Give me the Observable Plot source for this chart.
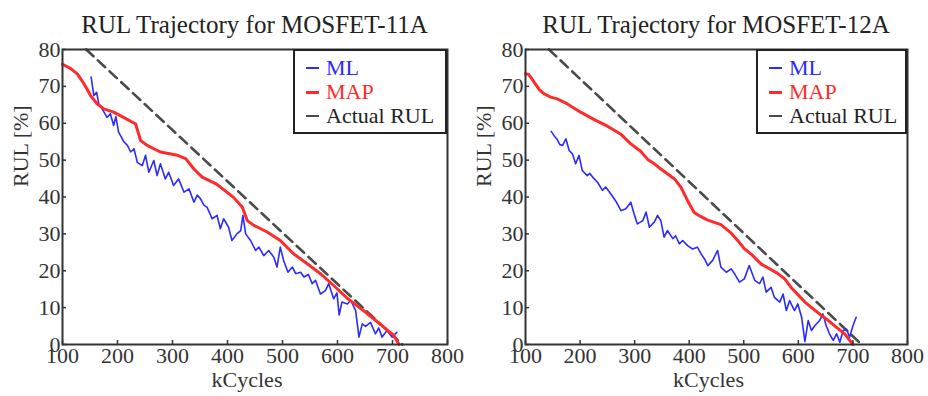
<!DOCTYPE html>
<html>
<head>
<meta charset="utf-8">
<script src="https://cdn.jsdelivr.net/npm/d3@7"></script>
<script src="https://cdn.jsdelivr.net/npm/@observablehq/plot@0.6"></script>
<style>
  html, body { margin: 0; padding: 0; background: #fff; }
  #wrap { position: relative; width: 928px; height: 396px; overflow: hidden; font-family: "Liberation Serif", "Times New Roman", serif; }
  .panel { position: absolute; top: 0; width: 464px; height: 396px; }
  .title { box-sizing: border-box; margin-top: 13px; height: 24px; line-height: 24px; font-size: 25px; color: #222; text-align: center; white-space: nowrap; }
  .panel svg { display: block; }
  .legend { position: absolute; top: 49px; height: 85px; box-sizing: border-box; border: 2px solid #222; background: #fff; padding: 5px 0 0 11px; font-size: 22px; }
  .legend .row { display: flex; align-items: center; height: 24px; white-space: nowrap; }
  .legend .swatch { width: 13px; height: 0; margin-right: 7px; }
</style>
</head>
<body>
<div id="wrap"></div>
<script>
// Axis ticks shared by both panels
const xTicks = [100, 200, 300, 400, 500, 600, 700, 800];
const yTicks = [0, 10, 20, 30, 40, 50, 60, 70, 80];

// MOSFET-11A: [kCycles, RUL %]
const ml11A = [[152,72.5],[157,67.5],[162,68.4],[166,65.3],[172,63.9],[181,61.6],[187,62.6],[193,59.4],[197,61.8],[202,57.6],[212,54.9],[218,54],[224,52.2],[230,53.1],[236,49.4],[245,48.5],[251,51.3],[257,46.7],[266,49.9],[272,45.8],[278,49],[287,44.9],[293,46.7],[302,43.1],[311,44.9],[321,41.3],[330,42.2],[339,38.6],[345,40.5],[351,39.5],[357,37.8],[363,37.2],[372,34.1],[381,35],[387,31.4],[393,34.1],[402,31.8],[408,28.2],[417,30],[424,30.9],[428,35],[433,30],[442,28.2],[451,25.5],[457,26.4],[466,24.1],[475,25.5],[484,23.7],[490,21],[496,26.4],[502,22.8],[510,19.6],[518,21],[524,19.2],[533,19.6],[539,18.3],[547,19],[554,16.5],[560,17.4],[569,13.7],[578,14.6],[584,16.5],[593,12.4],[599,14],[603,8],[608,11.5],[618,11],[624,12],[633,9.2],[639,2],[645,5.6],[651,4.9],[660,6],[669,2.9],[675,4.5],[681,2],[690,3.8],[699,2],[708,3.3]];
const map11A = [[100,76],[115,74.8],[127,73.4],[139,70.7],[151,67.5],[163,65.3],[175,63.9],[193,63],[211,61.6],[233,59.8],[242,55.3],[254,54],[278,52.2],[309,51.3],[324,50.4],[339,47.6],[354,45.4],[381,43.4],[411,39.9],[427,37.2],[436,33.6],[448,32.3],[472,30.5],[496,28.2],[520,24.6],[545,21.9],[569,19.2],[593,16],[618,12.5],[640,10],[654,8.4],[684,4.7],[702,2.5],[712,0]];
const actual11A = [[143,80],[718,0]];

// MOSFET-12A: [kCycles, RUL %]
const ml12A = [[147,57.8],[153,56.5],[158,55.6],[163,54.2],[168,54],[174,55.8],[180,52.6],[186,51.7],[192,49],[198,51.3],[204,47.2],[213,45.8],[218,46.4],[223,45.4],[232,44],[241,41.8],[247,42.7],[256,40.9],[265,39],[275,36.3],[284,36.8],[293,38.6],[299,35.4],[305,32.7],[315,33.6],[321,35.9],[327,31.8],[336,33.2],[342,35],[348,33.6],[354,29.1],[360,30.9],[370,28.7],[375,29.5],[382,27.3],[388,28.2],[397,26.8],[406,25.9],[415,26.4],[422,24.5],[428,23.2],[434,21.4],[443,22.8],[452,25.5],[458,21],[468,19.6],[477,20.5],[483,19.2],[492,16.9],[501,17.8],[510,21.4],[520,17.4],[529,16.5],[535,18.3],[541,14.2],[550,15.5],[556,12.8],[566,11.5],[572,13.7],[578,9.2],[584,11.9],[593,9.2],[599,11],[606,7.4],[612,0.8],[618,6.5],[624,3.8],[630,5.1],[639,6.5],[645,8.3],[651,5.1],[657,2.9],[664,1.1],[670,2.9],[676,0.6],[682,3.8],[688,4.2],[694,2],[700,5.1],[706,7.4]];
const map12A = [[100,73.4],[106,73.2],[112,72],[118,70.7],[126,69],[134,68],[146,67.1],[158,66.6],[176,65.3],[201,63],[226,61],[250,59.2],[275,57],[293,54.4],[311,52.4],[324,50.2],[336,49],[348,47.6],[360,46.3],[373,44.9],[385,42.6],[397,39],[409,35.8],[420,34.8],[433,33.8],[458,32.5],[477,30.2],[490,28],[501,26],[515,24.3],[532,21.8],[544,20.8],[562,19.3],[575,17.8],[587,15.4],[600,13.4],[612,11.5],[626,9.8],[642,7.9],[655,6.5],[667,5],[685,2.9],[700,0]];
const actual12A = [[143,80],[716,0]];

const titles = ["RUL Trajectory for MOSFET-11A", "RUL Trajectory for MOSFET-12A"];
const seriesNames = ["ML", "MAP", "Actual RUL"];

const colors = { ml: "#2b2bff", map: "#ff2b2b", actual: "#4a4a4a" };
const ink = "#333";

const panels = [
  { title: titles[0], ml: ml11A, map: map11A, actual: actual11A, left: 0, marginLeft: 62, marginRight: 17, legendLeft: 293, legendWidth: 154 },
  { title: titles[1], ml: ml12A, map: map12A, actual: actual12A, left: 464, marginLeft: 61, marginRight: 21, legendLeft: 292, legendWidth: 151 }
];

const wrap = document.getElementById("wrap");

for (const p of panels) {
  const panel = document.createElement("div");
  panel.className = "panel";
  panel.style.left = p.left + "px";

  const title = document.createElement("div");
  title.className = "title";
  title.style.paddingLeft = p.marginLeft + "px";
  title.style.paddingRight = p.marginRight + "px";
  title.textContent = p.title;
  panel.appendChild(title);

  const chart = Plot.plot({
    width: 464,
    height: 359,
    marginLeft: p.marginLeft,
    marginRight: p.marginRight,
    marginTop: 12,
    marginBottom: 52,
    x: { domain: [100, 800], ticks: xTicks },
    y: { domain: [0, 80], ticks: yTicks },
    style: { fontFamily: "'Liberation Serif', 'Times New Roman', serif", fontSize: "22px", color: ink, background: "white", overflow: "visible" },
    marks: [
      Plot.line(p.actual, { stroke: colors.actual, strokeWidth: 2.6, strokeDasharray: "10,6" }),
      Plot.line(p.ml, { stroke: colors.ml, strokeWidth: 1.6, strokeLinejoin: "round" }),
      Plot.line(p.map, { stroke: colors.map, strokeWidth: 3, strokeLinejoin: "round" }),
      Plot.frame({ stroke: ink, strokeWidth: 2 }),
      // tick labels
      Plot.axisX({ ticks: xTicks, tickSize: 0, tickPadding: 3, label: null, fill: ink }),
      Plot.axisY({ ticks: yTicks, tickSize: 0, tickPadding: 2, label: null, fill: ink }),
      // inward tick marks
      Plot.axisX({ ticks: xTicks, tickSize: 4, dy: -4, fill: "none", label: null, stroke: ink, strokeWidth: 1.5 }),
      Plot.axisY({ ticks: yTicks, tickSize: 4, dx: 4, fill: "none", label: null, stroke: ink, strokeWidth: 1.5 }),
      // axis titles
      Plot.text(["kCycles"], { text: d => d, frameAnchor: "bottom", dy: 42, dx: -8, fill: ink, fontSize: 22 }),
      Plot.text(["RUL [%]"], { text: d => d, frameAnchor: "left", rotate: -90, dx: -42, dy: -10, fill: ink, fontSize: 22 })
    ]
  });
  panel.appendChild(chart);

  // legend box in the upper-right corner of the frame
  const legend = document.createElement("div");
  legend.className = "legend";
  legend.style.left = p.legendLeft + "px";
  legend.style.width = p.legendWidth + "px";
  const entries = [
    { name: seriesNames[0], color: colors.ml, text: colors.ml, w: 2 },
    { name: seriesNames[1], color: colors.map, text: colors.map, w: 3 },
    { name: seriesNames[2], color: colors.actual, text: "#222", w: 2.5 }
  ];
  for (const e of entries) {
    const row = document.createElement("div");
    row.className = "row";
    const sw = document.createElement("span");
    sw.className = "swatch";
    sw.style.borderTop = e.w + "px solid " + e.color;
    const label = document.createElement("span");
    label.textContent = e.name;
    label.style.color = e.text;
    row.appendChild(sw);
    row.appendChild(label);
    legend.appendChild(row);
  }
  panel.appendChild(legend);

  wrap.appendChild(panel);
}
</script>
</body>
</html>
